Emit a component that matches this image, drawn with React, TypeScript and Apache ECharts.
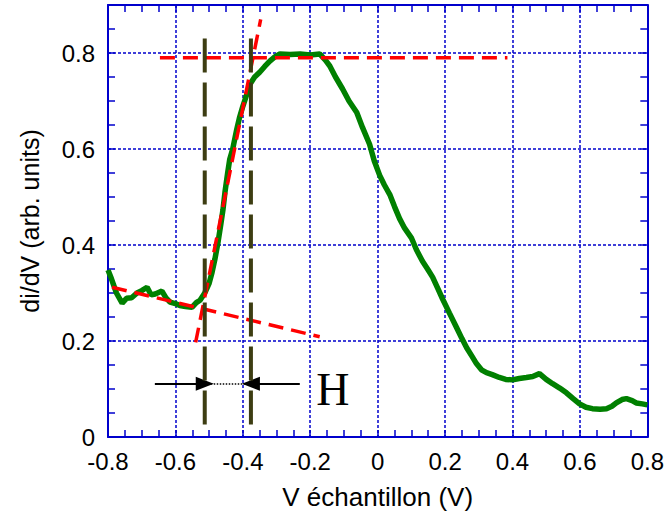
import React, { useEffect, useRef } from "react";
import * as echarts from "echarts";

// Tick labels
const xTickValues = [-0.8, -0.6, -0.4, -0.2, 0, 0.2, 0.4, 0.6, 0.8];
const xTickLabels = ["-0.8", "-0.6", "-0.4", "-0.2", "0", "0.2", "0.4", "0.6", "0.8"];
const yTickValues = [0, 0.2, 0.4, 0.6, 0.8];
const yTickLabels = ["0", "0.2", "0.4", "0.6", "0.8"];

// Measured curve: sample voltage (V) and di/dV (arb. units)
const voltage = [
  -0.8, -0.79, -0.775, -0.758, -0.745, -0.73, -0.714, -0.7, -0.684, -0.672,
  -0.66, -0.64, -0.628, -0.616, -0.6, -0.587, -0.57, -0.551, -0.538, -0.527,
  -0.513, -0.5, -0.492, -0.483, -0.474, -0.466, -0.459, -0.453, -0.445, -0.439,
  -0.43, -0.418, -0.41, -0.4, -0.39, -0.379, -0.365, -0.35, -0.335, -0.32,
  -0.305, -0.29, -0.26, -0.23, -0.2, -0.172, -0.155, -0.142, -0.125, -0.104,
  -0.085, -0.062, -0.045, -0.024, -0.01, 0.006, 0.02, 0.036, 0.05, 0.065,
  0.08, 0.1, 0.115, 0.133, 0.148, 0.163, 0.178, 0.193, 0.213, 0.234,
  0.25, 0.264, 0.28, 0.293, 0.308, 0.323, 0.34, 0.361, 0.38, 0.4,
  0.42, 0.441, 0.46, 0.48, 0.5, 0.519, 0.54, 0.56, 0.58, 0.599,
  0.618, 0.637, 0.66, 0.679, 0.695, 0.708, 0.725, 0.738, 0.755, 0.767,
  0.785, 0.8,
];
const didv = [
  0.348, 0.33, 0.3, 0.279, 0.289, 0.29, 0.3, 0.305, 0.312, 0.296,
  0.298, 0.304, 0.29, 0.281, 0.278, 0.274, 0.272, 0.27, 0.28, 0.285,
  0.3, 0.32, 0.341, 0.37, 0.404, 0.44, 0.473, 0.51, 0.55, 0.578,
  0.6, 0.641, 0.665, 0.689, 0.71, 0.735, 0.75, 0.76, 0.772, 0.783,
  0.792, 0.798, 0.797, 0.798, 0.796, 0.798, 0.785, 0.773, 0.75, 0.725,
  0.7, 0.676, 0.645, 0.61, 0.575, 0.545, 0.525, 0.505, 0.48, 0.455,
  0.435, 0.415, 0.39, 0.366, 0.35, 0.333, 0.31, 0.287, 0.258, 0.228,
  0.205, 0.186, 0.168, 0.153, 0.14, 0.134, 0.13, 0.124, 0.12, 0.119,
  0.122, 0.124, 0.126, 0.132, 0.12, 0.111, 0.102, 0.092, 0.08, 0.069,
  0.062, 0.059, 0.058, 0.059, 0.064, 0.071, 0.078, 0.08, 0.076, 0.071,
  0.069, 0.067,
];

// Construction lines (data coordinates)
const plateauX = [-0.646, 0.385];
const plateauY = [0.79, 0.79];
const riseX = [-0.54, -0.347];
const riseY = [0.197, 0.87];
const baselineX = [-0.788, -0.172];
const baselineY = [0.312, 0.209];
const markerX = [-0.513, -0.376];
const markerY = [0.83, 0.025];
const arrowY = 0.111;
const arrowLeftStart = -0.661;
const arrowRightStart = -0.231;
const hLabelPos = [-0.133, 0.1];
const hLabelText = "H";

const BLUE = "#0000cc";
const SANS = "'Liberation Sans', Arial, Helvetica, sans-serif";

function pickLabel(v: number, values: number[], labels: string[]) {
  for (let i = 0; i < values.length; i++) {
    if (Math.abs(values[i] - v) < 1e-6) return labels[i];
  }
  return "";
}

function zip(a: number[], b: number[]) {
  return a.map((x, i) => [x, b[i]]);
}

export default function App() {
  const ref = useRef<HTMLDivElement>(null);
  useEffect(() => {
    if (!ref.current) return;
    const chart = echarts.init(ref.current, undefined, { renderer: "svg" });
    const axisLine = { show: true, onZero: false, lineStyle: { color: BLUE, width: 2 } };
    const noLine = { show: false, onZero: false };
    const tick = { show: true, inside: true, length: 7, lineStyle: { color: BLUE, width: 1.5 } };
    const split = { show: true, lineStyle: { color: BLUE, width: 1.5, type: [3, 2] } };
    const redStyle = { color: "#ff0000", width: 3.5, type: [15, 8] };
    const oliveStyle = { color: "#3d3d12", width: 4, type: [34, 10] };

    const option: any = {
      animation: false,
      textStyle: { fontFamily: SANS },
      grid: { left: 108, right: 19, top: 5, bottom: 78, containLabel: false },
      xAxis: [
        {
          type: "value", min: -0.8, max: 0.8, interval: 0.05, position: "bottom",
          axisLine, axisTick: tick, splitLine: { show: false },
          axisLabel: {
            formatter: (v: number) => pickLabel(v, xTickValues, xTickLabels),
            fontSize: 24, color: "#000", margin: 12, fontFamily: SANS,
          },
          name: "V échantillon (V)", nameLocation: "middle", nameGap: 47,
          nameTextStyle: { fontSize: 26, color: "#000", fontFamily: SANS },
        },
        {
          type: "value", min: -0.8, max: 0.8, interval: 0.05, position: "top",
          axisLine, axisTick: tick, axisLabel: { show: false }, splitLine: { show: false },
        },
        {
          type: "value", min: -0.8, max: 0.8, interval: 0.2, position: "bottom",
          axisLine: noLine, axisTick: { show: false }, axisLabel: { show: false },
          splitLine: split,
        },
      ],
      yAxis: [
        {
          type: "value", min: 0, max: 0.9, interval: 0.05, position: "left",
          axisLine, axisTick: tick, splitLine: { show: false },
          axisLabel: {
            formatter: (v: number) => pickLabel(v, yTickValues, yTickLabels),
            fontSize: 24, color: "#000", margin: 13, fontFamily: SANS,
          },
          name: "di/dV (arb. units)", nameLocation: "middle", nameGap: 66,
          nameTextStyle: { fontSize: 25, color: "#000", fontFamily: SANS },
        },
        {
          type: "value", min: 0, max: 0.9, interval: 0.05, position: "right",
          axisLine, axisTick: tick, axisLabel: { show: false }, splitLine: { show: false },
        },
        {
          type: "value", min: 0, max: 0.9, interval: 0.2, position: "left",
          axisLine: noLine, axisTick: { show: false }, axisLabel: { show: false },
          splitLine: split,
        },
      ],
      series: [
        {
          type: "line", name: "didv", data: zip(voltage, didv), showSymbol: false, symbol: "none",
          lineStyle: { color: "#008000", width: 5.5 }, z: 3, silent: true,
        },
        {
          type: "line", data: zip(plateauX, plateauY), symbol: "none",
          lineStyle: redStyle, z: 4, silent: true, clip: false,
        },
        {
          type: "line", data: zip(riseX, riseY), symbol: "none",
          lineStyle: redStyle, z: 4, silent: true, clip: false,
        },
        {
          type: "line", data: zip(baselineX, baselineY), symbol: "none",
          lineStyle: redStyle, z: 4, silent: true, clip: false,
        },
        ...markerX.map((mx) => ({
          type: "line", data: zip([mx, mx], markerY), symbol: "none",
          lineStyle: oliveStyle, z: 5, silent: true, clip: false,
        })),
        {
          type: "line", data: [], symbol: "none", silent: true, z: 6,
          markLine: {
            silent: true, animation: false,
            symbol: ["none", "triangle"], symbolSize: [14, 18],
            label: { show: false },
            lineStyle: { color: "#000", width: 2, type: "solid" },
            emphasis: { disabled: true },
            data: [
              [{ coord: [arrowLeftStart, arrowY] }, { coord: [markerX[0], arrowY] }],
              [{ coord: [arrowRightStart, arrowY] }, { coord: [markerX[1], arrowY] }],
              [
                { coord: [markerX[0], arrowY], symbol: "none", lineStyle: { type: [1.5, 1.5], width: 1.5 } },
                { coord: [markerX[1], arrowY], symbol: "none" },
              ],
            ],
          },
        },
        {
          type: "scatter", data: [hLabelPos], symbolSize: 0, itemStyle: { color: "#000", opacity: 1 },
          silent: true, z: 6,
          label: {
            show: true, formatter: hLabelText, position: "inside",
            fontFamily: "'Liberation Serif', 'Times New Roman', serif",
            fontSize: 46, color: "#000", opacity: 1,
          },
        },
      ],
    };
    chart.setOption(option);
    return () => chart.dispose();
  }, []);
  return (
    <div
      ref={ref}
      style={{ position: "fixed", left: 0, top: 0, width: 667, height: 515, background: "#fff" }}
    />
  );
}
